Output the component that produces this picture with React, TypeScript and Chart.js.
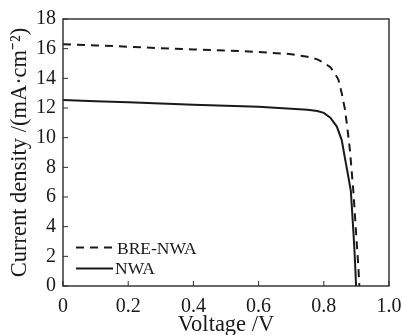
import React, { useEffect, useRef } from "react";
import { Chart, registerables } from "chart.js";

Chart.register(...registerables);

const breVoltage = [0, 0.1, 0.2, 0.3, 0.4, 0.5, 0.6, 0.7, 0.75, 0.78, 0.8, 0.82, 0.835, 0.845, 0.855, 0.865, 0.872, 0.88, 0.891, 0.899, 0.906, 0.909];
const breCurrent = [16.3, 16.22, 16.13, 16.03, 15.95, 15.87, 15.78, 15.63, 15.45, 15.28, 15.05, 14.75, 14.3, 13.9, 13.0, 11.9, 10.7, 9.2, 6.3, 3.6, 1.3, 0];

const nwaVoltage = [0, 0.1, 0.2, 0.3, 0.4, 0.5, 0.6, 0.7, 0.75, 0.78, 0.8, 0.82, 0.84, 0.855, 0.865, 0.875, 0.883, 0.891, 0.895, 0.899];
const nwaCurrent = [12.54, 12.46, 12.38, 12.3, 12.22, 12.15, 12.08, 11.95, 11.88, 11.8, 11.67, 11.35, 10.75, 9.84, 8.6, 7.4, 6.4, 3.6, 2.0, 0];

const seriesNames = ["BRE-NWA", "NWA"];
const xTickLabels = ["0", "0.2", "0.4", "0.6", "0.8", "1.0"];
const yTickLabels = ["0", "2", "4", "6", "8", "10", "12", "14", "16", "18"];
const xTitle = "Voltage /V";
const yTitle = "Current density /(mA\u00b7cm\u207b\u00b2)";

const FONT = "'Liberation Serif', 'Times New Roman', serif";
const INK = "#1a1a1a";

const framePlugin = {
  id: "frameAndTicks",
  afterDatasetsDraw(chart: any) {
    const { ctx, chartArea } = chart;
    const { left, right, top, bottom } = chartArea;
    const xs = chart.scales.x;
    const ys = chart.scales.y;
    ctx.save();
    ctx.strokeStyle = "#2a2a2a";
    ctx.lineWidth = 1.4;
    ctx.setLineDash([]);
    ctx.strokeRect(left, top, right - left, bottom - top);
    ctx.lineWidth = 1;
    ctx.beginPath();
    xTickLabels.forEach((_, i) => {
      const px = xs.getPixelForValue(i * 0.2);
      ctx.moveTo(px, bottom);
      ctx.lineTo(px, bottom - 5);
    });
    yTickLabels.forEach((_, i) => {
      const py = ys.getPixelForValue(i * 2);
      ctx.moveTo(left, py);
      ctx.lineTo(left + 5, py);
    });
    ctx.stroke();

    // legend
    ctx.strokeStyle = INK;
    ctx.lineWidth = 2;
    ctx.setLineDash([8, 6]);
    ctx.beginPath();
    ctx.moveTo(left + 13, 247.5);
    ctx.lineTo(left + 49, 247.5);
    ctx.stroke();
    ctx.setLineDash([]);
    ctx.beginPath();
    ctx.moveTo(left + 13, 268.5);
    ctx.lineTo(left + 50, 268.5);
    ctx.stroke();
    ctx.fillStyle = INK;
    ctx.font = `17.5px ${FONT}`;
    ctx.textBaseline = "alphabetic";
    ctx.textAlign = "left";
    ctx.fillText(seriesNames[0], left + 54, 253.5);
    ctx.fillText(seriesNames[1], left + 52, 274);
    ctx.restore();
  },
};

export default function App() {
  const ref = useRef<HTMLCanvasElement>(null);
  useEffect(() => {
    if (!ref.current) return;
    const chart = new Chart(ref.current, {
      type: "scatter",
      data: {
        datasets: [
          {
            label: seriesNames[0],
            data: breVoltage.map((v, i) => ({ x: v, y: breCurrent[i] })),
            showLine: true,
            borderColor: INK,
            borderWidth: 2,
            borderDash: [8, 6],
            pointRadius: 0,
            tension: 0,
          },
          {
            label: seriesNames[1],
            data: nwaVoltage.map((v, i) => ({ x: v, y: nwaCurrent[i] })),
            showLine: true,
            borderColor: INK,
            borderWidth: 2,
            pointRadius: 0,
            tension: 0,
          },
        ],
      },
      options: {
        responsive: false,
        animation: false,
        layout: { padding: { top: 19, right: 15, left: 0, bottom: 0 } },
        plugins: { legend: { display: false }, tooltip: { enabled: false } },
        scales: {
          x: {
            type: "linear",
            min: 0,
            max: 1,
            afterFit: (s: any) => {
              s.height = 49;
              s.paddingLeft = 0;
              s.paddingRight = 0;
            },
            afterBuildTicks: (s: any) => {
              s.ticks = xTickLabels.map((_, i) => ({ value: i * 0.2 }));
            },
            grid: { display: false, drawTicks: false, tickLength: 0 },
            border: { display: false },
            ticks: {
              color: INK,
              padding: 9,
              maxRotation: 0,
              font: { family: FONT, size: 20 },
              callback: (_v: any, i: number) => xTickLabels[i],
            },
            title: {
              display: true,
              text: xTitle,
              color: INK,
              font: { family: FONT, size: 22.5, lineHeight: 0.85 },
              padding: { top: 0, bottom: 0 },
            },
          },
          y: {
            type: "linear",
            min: 0,
            max: 18,
            afterFit: (s: any) => {
              s.width = 63;
              s.paddingTop = 0;
              s.paddingBottom = 0;
            },
            afterBuildTicks: (s: any) => {
              s.ticks = yTickLabels.map((_, i) => ({ value: i * 2 }));
            },
            grid: { display: false, drawTicks: false, tickLength: 0 },
            border: { display: false },
            ticks: {
              color: INK,
              padding: 7,
              font: { family: FONT, size: 20 },
              callback: (_v: any, i: number) => yTickLabels[i],
            },
            title: {
              display: true,
              text: yTitle,
              color: INK,
              font: { family: FONT, size: 22.5, lineHeight: 1 },
              padding: { top: 9, bottom: 0 },
            },
          },
        },
      },
      plugins: [framePlugin],
    });
    return () => chart.destroy();
  }, []);
  return (
    <div style={{ position: "fixed", left: 0, top: 0, width: 404, height: 335, background: "#fff" }}>
      <canvas ref={ref} width={404} height={335} />
    </div>
  );
}
